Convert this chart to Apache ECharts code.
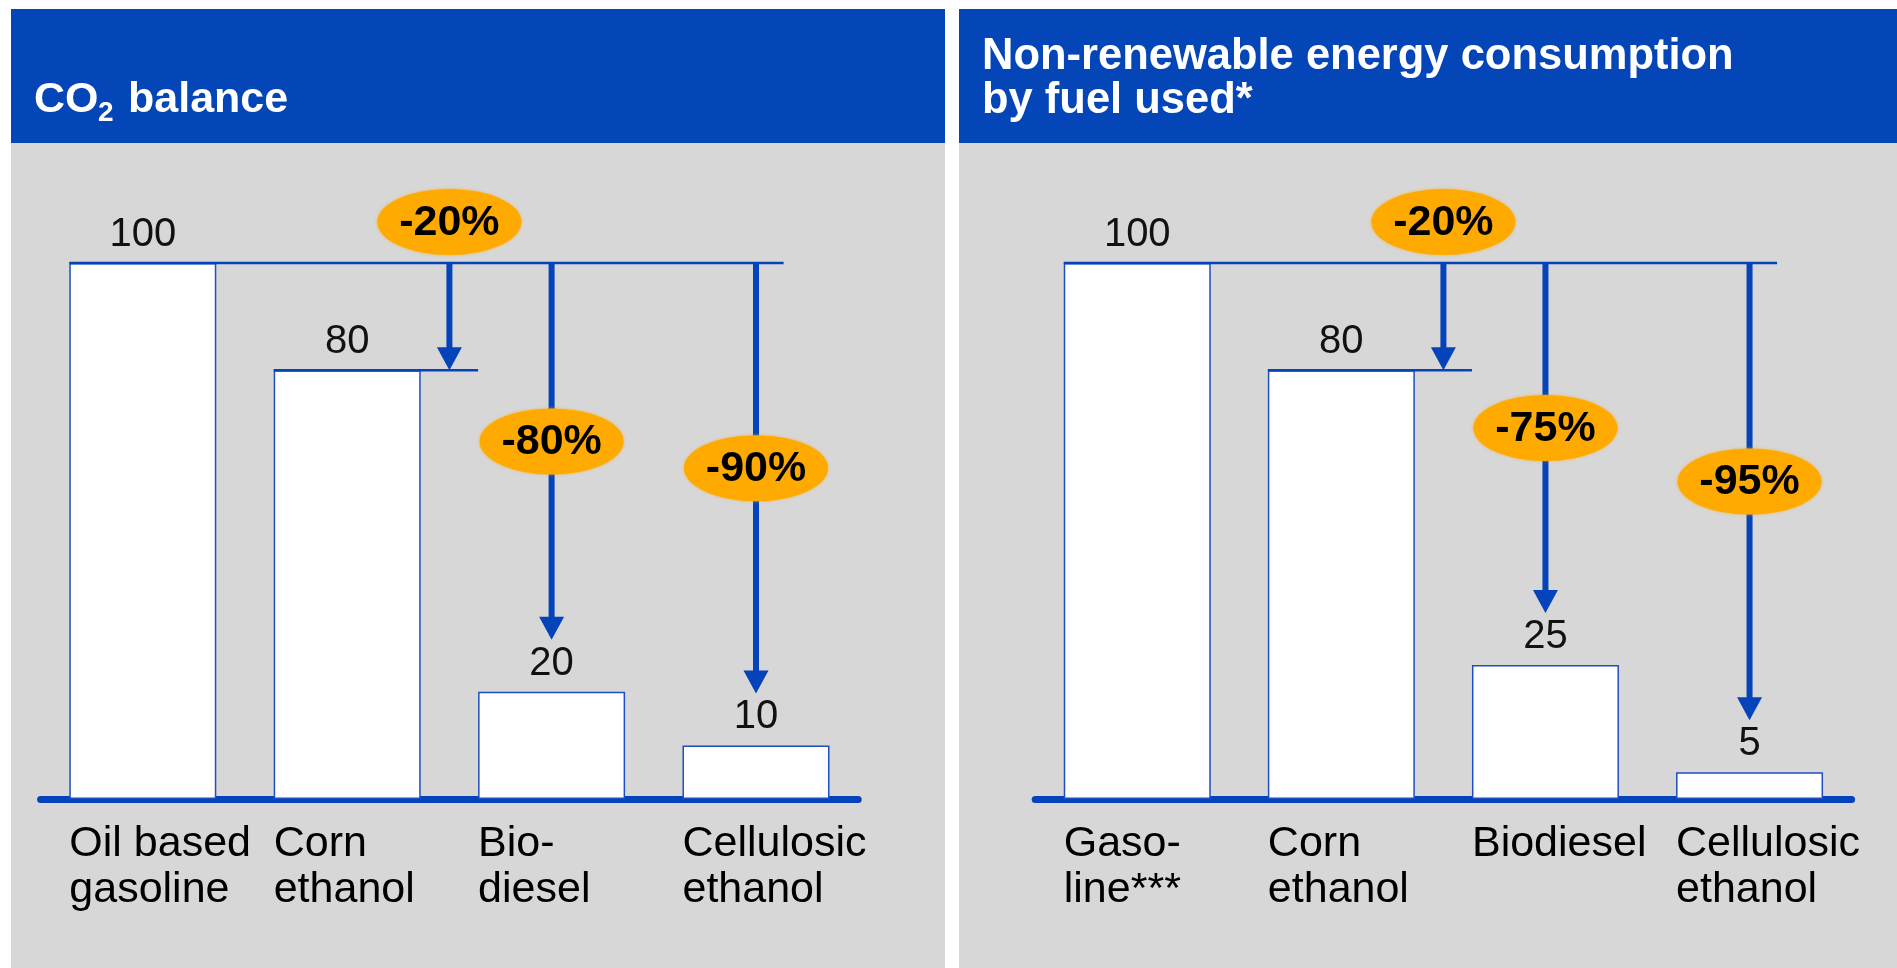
<!DOCTYPE html>
<html><head><meta charset="utf-8">
<script src="https://cdn.jsdelivr.net/npm/echarts@6/dist/echarts.min.js"></script>
<style>html,body{margin:0;padding:0;background:#fff}#c{width:1897px;height:968px}</style>
</head><body><div id="c"></div>
<script>
// ---- data ----
const leftCategories = ['Oil based\ngasoline', 'Corn\nethanol', 'Bio-\ndiesel', 'Cellulosic\nethanol'];
const leftValues = [100, 80, 20, 10];
const leftChanges = ['-20%', '-80%', '-90%'];
const rightCategories = ['Gaso-\nline***', 'Corn\nethanol', 'Biodiesel', 'Cellulosic\nethanol'];
const rightValues = [100, 80, 25, 5];
const rightChanges = ['-20%', '-75%', '-95%'];

// ---- style ----
const FONT = '"Liberation Sans", Arial, Helvetica, sans-serif';
const BLUE = '#0443BA';
const HEADER = '#0445B8';
const GRAY = '#D7D7D7';
const ORANGE = '#FFAA00';
const BAR_W = 147;

function makeRender(cats, vals, changes) {
  return function (params, api) {
    const i = api.value(0);
    const v = api.value(1);
    const band = api.size([1, 0])[0];
    const half = BAR_W / 2;
    const c = api.coord([i, v]);
    const base = api.coord([i, 0]);
    const top = api.coord([0, vals[0]]);
    const children = [];
    // category label, left aligned at bar's left edge
    children.push({
      type: 'text', z2: 5,
      style: { text: cats[i], x: base[0] - half, y: base[1] + 22, fill: '#000',
        fontSize: 43, fontFamily: FONT, lineHeight: 46, align: 'left', verticalAlign: 'top' }
    });
    if (i === 0) {
      const endX = api.coord([cats.length - 1, v])[0] + band * 0.135;
      children.push({ type: 'line', shape: { x1: c[0] - half, y1: c[1], x2: endX, y2: c[1] },
        style: { stroke: BLUE, lineWidth: 2.5 } });
    }
    if (i === 1) {
      const endX = api.coord([2, v])[0] - half;
      children.push({ type: 'line', shape: { x1: c[0] - half, y1: c[1], x2: endX, y2: c[1] },
        style: { stroke: BLUE, lineWidth: 2.5 } });
    }
    if (i >= 1) {
      const ax = i === 1 ? c[0] + band / 2 : c[0];
      const ay0 = top[1];
      const ay1 = i === 1 ? c[1] : c[1] - 52;
      const headH = 23, headW = 25;
      children.push({ type: 'line', shape: { x1: ax, y1: ay0, x2: ax, y2: ay1 - headH + 2 },
        style: { stroke: BLUE, lineWidth: 6 } });
      children.push({ type: 'polygon', shape: { points: [[ax - headW / 2, ay1 - headH], [ax + headW / 2, ay1 - headH], [ax, ay1]] },
        style: { fill: BLUE } });
      const cy = i === 1 ? ay0 - 41 : (ay0 + ay1) / 2 - 10;
      const rx = 72, ry = 33;
      children.push({ type: 'circle', x: ax, y: cy, scaleX: rx / ry, shape: { cx: 0, cy: 0, r: ry },
        style: { fill: ORANGE, shadowBlur: 3, shadowColor: 'rgba(255,170,0,0.8)' } });
      children.push({ type: 'text', z2: 6,
        style: { text: changes[i - 1], x: ax, y: cy + 1, fill: '#000', fontSize: 43, fontWeight: 'bold',
          fontFamily: FONT, align: 'center', verticalAlign: 'middle' } });
    }
    return { type: 'group', children: children };
  };
}

function gridSeries(idx, cats, vals, changes) {
  return [
    {
      type: 'bar', xAxisIndex: idx, yAxisIndex: idx, data: vals, barWidth: BAR_W, z: 2,
      itemStyle: { color: '#FFFFFF', borderColor: '#1E4FC2', borderWidth: 1.5 },
      label: { show: true, position: 'top', distance: 8, fontSize: 40, color: '#111', fontFamily: FONT },
      silent: true
    },
    {
      type: 'custom', xAxisIndex: idx, yAxisIndex: idx, z: 4, clip: false, silent: true,
      data: cats.map((_, k) => [k, vals[k]]),
      encode: { x: 0, y: 1 },
      renderItem: makeRender(cats, vals, changes)
    }
  ];
}

function xAxis(idx, cats) {
  return {
    type: 'category', gridIndex: idx, data: cats,
    axisLine: { show: true, lineStyle: { color: BLUE, width: 7, cap: 'round' } },
    axisTick: { show: false }, axisLabel: { show: false }, splitLine: { show: false }
  };
}
function yAxis(idx) {
  return { type: 'value', gridIndex: idx, min: 0, max: 100, show: false, splitLine: { show: false } };
}

const chart = echarts.init(document.getElementById('c'), null, { renderer: 'canvas' });
chart.setOption({
  backgroundColor: '#FFFFFF',
  animation: false,
  grid: [
    { left: 40.6, width: 817.6, top: 263, height: 536 },
    { left: 1035.2, width: 816.4, top: 263, height: 536 }
  ],
  xAxis: [xAxis(0, leftCategories), xAxis(1, rightCategories)],
  yAxis: [yAxis(0), yAxis(1)],
  graphic: [
    { type: 'rect', z: -10, shape: { x: 11, y: 143, width: 934, height: 830 }, style: { fill: GRAY } },
    { type: 'rect', z: -10, shape: { x: 959, y: 143, width: 940, height: 830 }, style: { fill: GRAY } },
    { type: 'rect', z: -9, shape: { x: 11, y: 9, width: 934, height: 134 }, style: { fill: HEADER } },
    { type: 'rect', z: -9, shape: { x: 959, y: 9, width: 940, height: 134 }, style: { fill: HEADER } },
    { type: 'text', z: 10, x: 34, y: 100, style: { text: 'CO', fill: '#fff', fontSize: 43, fontWeight: 'bold', fontFamily: FONT, verticalAlign: 'middle' } },
    { type: 'text', z: 10, x: 98, y: 113, style: { text: '2', fill: '#fff', fontSize: 28, fontWeight: 'bold', fontFamily: FONT, verticalAlign: 'middle' } },
    { type: 'text', z: 10, x: 128, y: 100, style: { text: 'balance', fill: '#fff', fontSize: 43, fontWeight: 'bold', fontFamily: FONT, verticalAlign: 'middle' } },
    { type: 'text', z: 10, x: 982, y: 79, style: { text: 'Non-renewable energy consumption\nby fuel used*', fill: '#fff', fontSize: 43.5, lineHeight: 44, fontWeight: 'bold', fontFamily: FONT, verticalAlign: 'middle' } }
  ],
  series: [].concat(
    gridSeries(0, leftCategories, leftValues, leftChanges),
    gridSeries(1, rightCategories, rightValues, rightChanges)
  )
});
</script>
</body></html>
